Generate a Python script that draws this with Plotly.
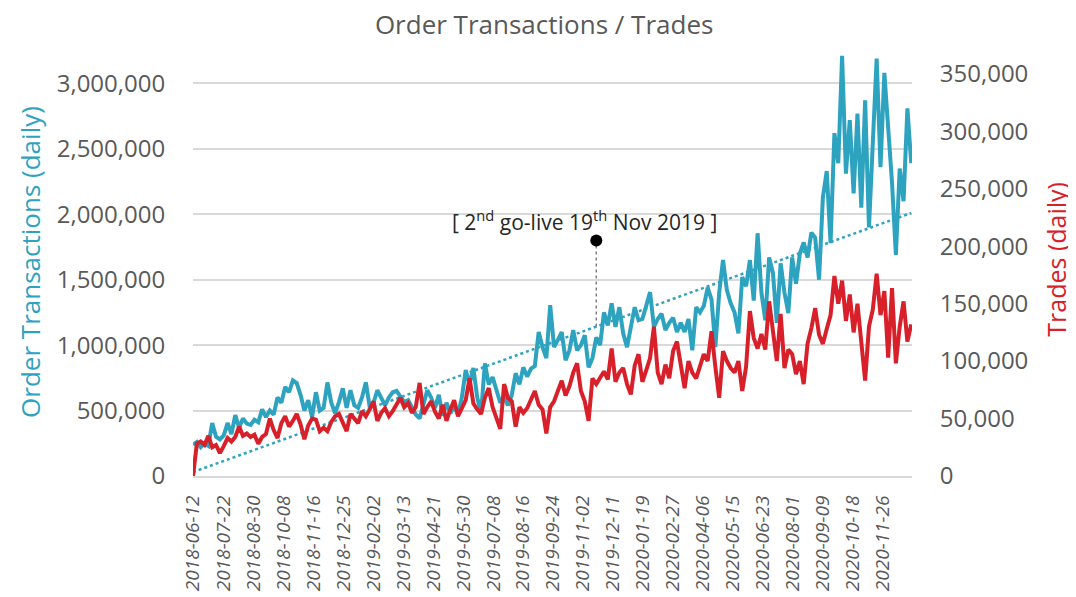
import numpy as np
import pandas as pd
import plotly.graph_objects as go

# ---------------- data ----------------
start_date = "2018-06-12"
step = "5D"

# Order transactions (daily), thousands
orders_k = [
    240, 260, 220, 250, 230, 405, 300, 280, 310, 405,
    320, 465, 370, 440, 400, 390, 430, 410, 510, 450,
    500, 470, 600, 560, 680, 640, 730, 710, 620, 500,
    580, 450, 640, 500, 520, 715, 560, 480, 565, 670,
    520, 655, 540, 520, 600, 715, 530, 560, 655, 600,
    540, 600, 640, 650, 600, 565, 580, 520, 470, 440,
    560, 655, 600, 520, 620, 460, 560, 480, 530, 470,
    600, 810, 700, 825, 600, 480, 860, 700, 755, 650,
    560, 600, 540, 620, 785, 700, 830, 760, 820, 840,
    1100, 985, 900, 1305, 985, 1040, 1100, 885, 960, 1115,
    960, 1000, 1075, 830, 900, 1060, 1000, 1250, 1150, 1320,
    1140, 1290, 1090, 985, 1150, 1290, 1190, 1200, 1300, 1405,
    1140, 1200, 1240, 1115, 1170, 1210, 1100, 1170, 1100, 1200,
    960, 1290, 1250, 1300, 1440, 1350, 985, 1400, 1650, 1420,
    1320, 1250, 1090, 1520, 1450, 1650, 1340, 1855, 1400, 1190,
    1670, 1550, 1170, 1625, 1400, 1245, 1670, 1470, 1700, 1785,
    1670, 1860, 1820, 1500, 2130, 2330, 1780, 2620, 2390, 3210,
    2310, 2720, 2160, 2770, 2050, 2870, 1900, 2640, 3190, 2360,
    3080, 2660, 2240, 1690, 2350, 2100, 2810, 2390,
]

# Trades (daily), thousands
trades_k = [
    0, 28, 30, 27, 35, 25, 27, 20, 26, 33,
    30, 34, 43, 35, 37, 34, 36, 28, 34, 36.5,
    50, 40, 33, 46, 52, 43, 48, 54, 45, 32,
    44, 50, 49, 39, 42, 39, 47, 52, 54, 47,
    39, 54, 50, 46, 56.5, 52, 58, 65, 48, 55,
    59, 52, 56.5, 62, 68, 60, 63.5, 55, 60, 81,
    54, 60, 65, 56, 50, 62, 48, 58, 66, 52,
    59, 66, 85, 63, 58, 54, 68, 76.5, 60, 50,
    41, 80, 68, 65, 43, 60, 55, 59, 66, 74,
    62, 58, 37, 60, 65, 75, 83, 70, 78, 90,
    98, 74, 65, 48, 85, 80, 86, 91, 84, 111,
    82, 90, 94, 80, 71, 96, 106, 82, 92, 102.6,
    130, 90, 80, 97, 85, 108.7, 117, 95, 76.5, 100,
    90, 85, 95, 106, 100, 126, 95, 68, 108.7, 100,
    94, 90, 100, 74, 95, 143.5, 120, 111, 123.5, 110,
    152, 125, 100, 141, 94, 110, 106, 88.7, 100, 80,
    115, 128.7, 146, 123, 115, 128, 140, 174, 150, 170,
    135, 158, 125, 150, 120, 83, 130, 145, 176, 140,
    161, 103, 163.5, 98, 130, 152, 117, 132,
]

# Linear trend of order transactions (start / end values)
trend_vals = [30000, 2010000]

# Go-live marker
golive_date = "2019-11-19"
golive_top = 1800000

# Tick labels
x_ticks = [
    "2018-06-12", "2018-07-22", "2018-08-30", "2018-10-08", "2018-11-16",
    "2018-12-25", "2019-02-02", "2019-03-13", "2019-04-21", "2019-05-30",
    "2019-07-08", "2019-08-16", "2019-09-24", "2019-11-02", "2019-12-11",
    "2020-01-19", "2020-02-27", "2020-04-06", "2020-05-15", "2020-06-23",
    "2020-08-01", "2020-09-09", "2020-10-18", "2020-11-26",
]
left_ticks = [0, 500000, 1000000, 1500000, 2000000, 2500000, 3000000]
right_ticks = [0, 50000, 100000, 150000, 200000, 250000, 300000, 350000]

# ---------------- build ----------------
dates = pd.date_range(start_date, periods=len(orders_k), freq=step)
orders = np.array(orders_k) * 1000
trades = np.array(trades_k) * 1000

trend_dates = [dates[0], dates[-1]]
t0 = dates[0].value
t1 = dates[-1].value
tg = pd.Timestamp(golive_date).value
golive_low = np.interp(tg, [t0, t1], trend_vals)

TEAL = "#2EA3C0"
RED = "#D7202A"
GRAY = "#595959"
FONT = "Open Sans"

fig = go.Figure()

fig.add_trace(go.Scatter(
    x=trend_dates, y=trend_vals, mode="lines",
    line=dict(color=TEAL, width=2.5, dash="dot"),
    showlegend=False, hoverinfo="skip",
))
fig.add_trace(go.Scatter(
    x=dates, y=orders, mode="lines",
    line=dict(color=TEAL, width=4),
    name="Order Transactions", showlegend=False,
))
fig.add_trace(go.Scatter(
    x=dates, y=trades, mode="lines",
    line=dict(color=RED, width=4),
    name="Trades", yaxis="y2", showlegend=False,
))
fig.add_trace(go.Scatter(
    x=[golive_date, golive_date], y=[golive_low, golive_top],
    mode="lines", line=dict(color="#7F7F7F", width=1.5, dash="dot"),
    showlegend=False, hoverinfo="skip",
))
fig.add_trace(go.Scatter(
    x=[golive_date], y=[golive_top], mode="markers",
    marker=dict(color="black", size=12),
    showlegend=False, hoverinfo="skip",
))

fig.add_annotation(
    x=golive_date, y=golive_top, xref="x", yref="y",
    text="[ 2<sup>nd</sup> go-live 19<sup>th</sup> Nov 2019 ]",
    showarrow=False, xshift=-12, yshift=20,
    font=dict(family=FONT, size=21, color="#262626"),
)

fig.add_annotation(
    x=-0.2267, y=0.505, xref="paper", yref="paper",
    xanchor="center", yanchor="middle",
    text="Order Transactions (daily)", textangle=-90, showarrow=False,
    font=dict(family=FONT, size=26, color=TEAL),
)
fig.add_annotation(
    x=1.2, y=0.512, xref="paper", yref="paper",
    xanchor="center", yanchor="middle",
    text="Trades (daily)", textangle=-90, showarrow=False,
    font=dict(family=FONT, size=25, color=RED),
)

# page body has an 8px margin: figure is placed at (8, 8)
fig.update_layout(
    width=1068, height=589,
    margin=dict(l=185, r=164, t=44, b=121, autoexpand=False),
    paper_bgcolor="white", plot_bgcolor="white",
    title=dict(
        text="Order Transactions / Trades", x=0.502, xanchor="center",
        y=0.971, yanchor="middle", yref="container",
        font=dict(family=FONT, size=26, color=GRAY),
    ),
    font=dict(family=FONT, color=GRAY),
    xaxis=dict(
        type="date",
        range=["2018-06-12", "2021-01-03"],
        tickvals=x_ticks, ticktext=x_ticks, tickangle=-90,
        tickfont=dict(family=FONT, size=19, color=GRAY, style="italic"),
        ticks="outside", ticklen=10, tickcolor="rgba(0,0,0,0)",
        showgrid=False, zeroline=False,
        showline=True, linecolor="#D9D9D9", linewidth=2,
        automargin=False, fixedrange=True,
    ),
    yaxis=dict(
        range=[0, 3240000],
        tickvals=left_ticks, tickformat=",d",
        tickfont=dict(family=FONT, size=24, color=GRAY),
        ticks="outside", ticklen=22, tickcolor="rgba(0,0,0,0)",
        showgrid=True, gridcolor="#D9D9D9", gridwidth=1.5,
        zeroline=False, showline=False, automargin=False,
    ),
    yaxis2=dict(
        range=[0, 369000], overlaying="y", side="right",
        tickvals=right_ticks, tickformat=",d",
        tickfont=dict(family=FONT, size=24, color=GRAY),
        ticks="outside", ticklen=22, tickcolor="rgba(0,0,0,0)",
        showgrid=False, zeroline=False, showline=False, automargin=False,
    ),
)

fig.write_html("out.html")
